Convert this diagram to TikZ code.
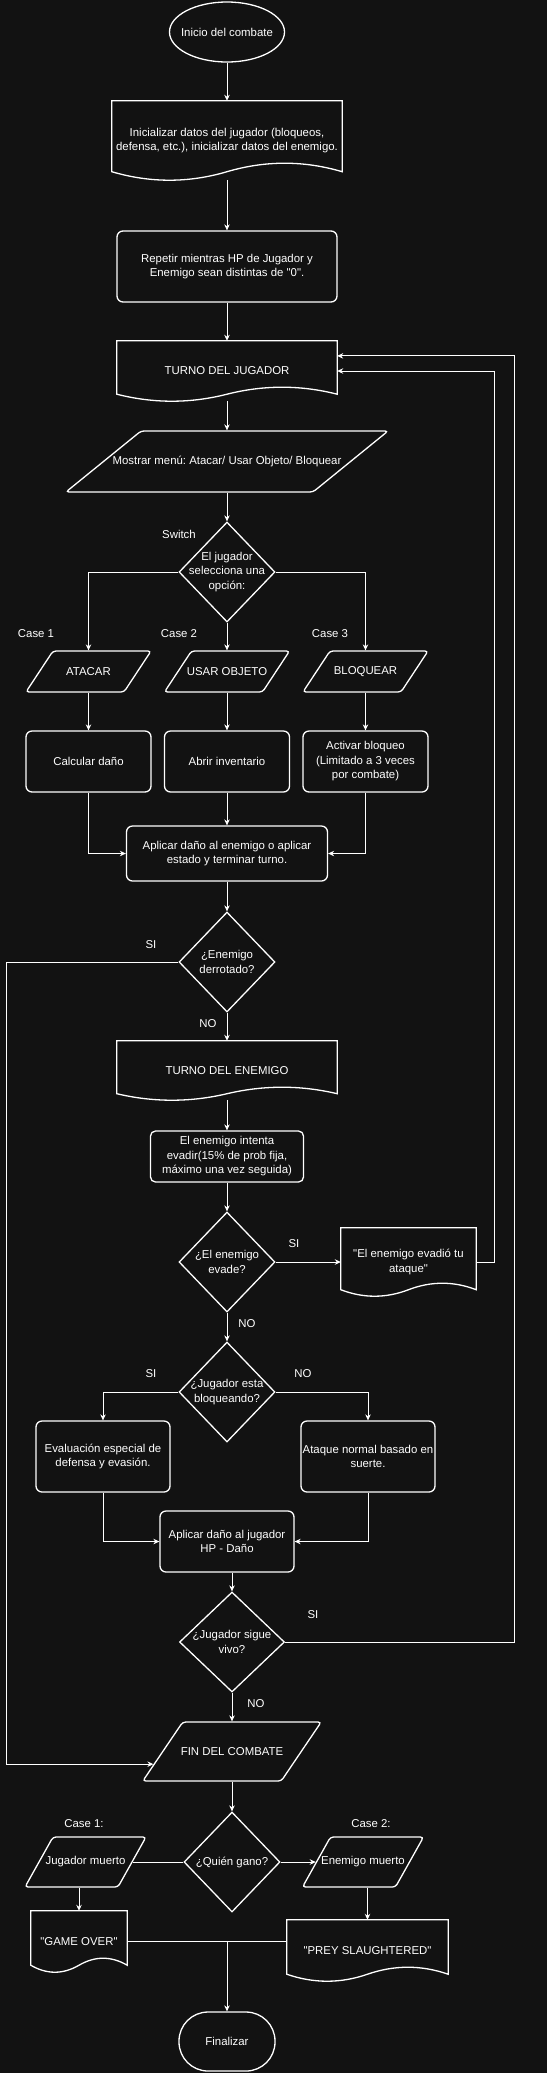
\documentclass[tikz,border=0pt]{standalone}
\usepackage{fontspec}
\setmainfont{Liberation Sans}
\usetikzlibrary{arrows.meta,calc,shapes.geometric}
\definecolor{bgc}{HTML}{121212}
\newcommand{\qq}{\textquotedbl}
\newcommand{\docline}[2]{%
\draw[shp] ($(#1.south west)+(0,-#2)$) -- (#1.north west) -- (#1.north east) -- ($(#1.south east)+(0,-#2)$)
  .. controls ($(#1.south east)!1/6!(#1.south west)+(0,-2.333*#2)$) and ($(#1.south east)!1/3!(#1.south west)+(0,-2.333*#2)$) .. ($(#1.south)+(0,-#2)$)
  .. controls ($(#1.south)!1/3!(#1.south west)+(0,0.333*#2)$) and ($(#1.south)!2/3!(#1.south west)+(0,0.333*#2)$) .. ($(#1.south west)+(0,-#2)$) -- cycle;}

\begin{document}
\frenchspacing
\begin{tikzpicture}[x=1pt,y=-1pt,font=\fontsize{11.4}{14.5}\selectfont,text=white,
  shp/.style={draw=white,line width=1.3pt},
  proc/.style={shp,rectangle,rounded corners=6pt,align=center,inner sep=0pt},
  doc/.style={rectangle,align=center,inner sep=0pt},
  io/.style n args={4}{shp,trapezium,rounded corners=3pt,trapezium left angle=#1,trapezium right angle=#2,inner xsep=#3,inner ysep=#4},
  cond/.style={shp,diamond,inner sep=0pt,minimum width=96pt,minimum height=100pt},
  tl/.style={align=center,inner sep=0pt},
  arr/.style={draw=white,line width=0.9pt,-{Stealth[length=6pt,width=5.5pt]}},
  lin/.style={draw=white,line width=0.9pt}]
\fill[bgc] (0,0) rectangle (547,2073);
\useasboundingbox (0,0) rectangle (547,2073);

\node[shp,ellipse,minimum width=115pt,minimum height=60pt,inner sep=0pt,label={[tl]center:Inicio del combate}] (ini) at (227,32) {};
\node[doc,minimum width=230pt,minimum height=79pt] (dat) at (227,140.5) {Inicializar datos del jugador (bloqueos,\\defensa, etc.), inicializar datos del enemigo.};
\docline{dat}{8.5}
\node[proc,minimum width=220pt,minimum height=71pt] (rep) at (227,266.5) {Repetir mientras HP de Jugador y\\Enemigo sean distintas de \qq0\qq.};
\node[doc,minimum width=220pt,minimum height=60pt] (tj) at (227,371) {TURNO DEL JUGADOR};
\docline{tj}{7}
\node[io={39.1}{140.9}{86pt}{30.5pt},label={[tl]center:{Mostrar menú: Atacar/ Usar Objeto/ Bloquear}}] (menu) at (227,461.5) {};
\node[cond,label={[tl]center:{El jugador\\selecciona una\\opción:}}] (sel) at (227,572) {};
\node (sw) at (179,534) {Switch};
\node (cs1) at (36,634) {Case 1};
\node (cs2) at (179,634) {Case 2};
\node (cs3) at (330,634) {Case 3};
\node[io={56.6}{123.4}{35.5pt}{20.5pt},label={[tl]center:ATACAR}] (at) at (88.5,671.5) {};
\node[io={56.6}{123.4}{35.5pt}{20.5pt},label={[tl]center:USAR OBJETO}] (us) at (227,671.5) {};
\node[io={56.6}{123.4}{35.5pt}{20.5pt},label={[tl]center:BLOQUEAR}] (bq) at (365.5,671.5) {};
\node[proc,minimum width=125pt,minimum height=61pt] (cd) at (88.5,761.5) {Calcular daño};
\node[proc,minimum width=125pt,minimum height=61pt] (ai) at (227,761.5) {Abrir inventario};
\node[proc,minimum width=125pt,minimum height=61pt] (ab) at (365.5,761.5) {Activar bloqueo\\(Limitado a 3 veces\\por combate)};
\node[proc,minimum width=201pt,minimum height=55pt] (ap) at (227,853.5) {Aplicar daño al enemigo o aplicar\\estado y terminar turno.};
\node[cond,label={[tl]center:{¿Enemigo\\derrotado?}}] (derr) at (227,962) {};
\node (si1) at (151,945) {SI};
\node (no1) at (208,1024) {NO};
\node[doc,minimum width=220pt,minimum height=59pt] (te) at (227,1070.5) {TURNO DEL ENEMIGO};
\docline{te}{6.5}
\node[proc,rounded corners=5pt,minimum width=153pt,minimum height=51pt] (ei) at (227,1156.5) {El enemigo intenta\\evadir(15\% de prob fija,\\máximo una vez seguida)};
\node[cond,label={[tl]center:{¿El enemigo\\evade?}}] (eva) at (227,1262) {};
\node (si2) at (294,1244) {SI};
\node (no2) at (247,1324) {NO};
\node[doc,minimum width=135pt,minimum height=68pt] (ev) at (408.5,1262) {\qq El enemigo evadió tu\\ataque\qq};
\docline{ev}{6.5}
\node[cond,label={[tl]center:{¿Jugador esta\\bloqueando?}}] (blq) at (227,1392) {};
\node (si3) at (151,1374) {SI};
\node (no3) at (303,1374) {NO};
\node[proc,minimum width=134pt,minimum height=71pt] (ee) at (103,1456.5) {Evaluación especial de\\defensa y evasión.};
\node[proc,minimum width=134pt,minimum height=71pt] (an) at (368,1456.5) {Ataque normal basado en\\suerte.};
\node[proc,minimum width=134pt,minimum height=61pt] (aj) at (227,1541.5) {Aplicar daño al jugador\\HP - Daño};
\node[cond,minimum width=105pt,label={[tl]center:{¿Jugador sigue\\vivo?}}] (viv) at (232,1642) {};
\node (si4) at (313,1615) {SI};
\node (no4) at (256,1704) {NO};
\node[io={55.9}{124.1}{49.25pt}{29.5pt},label={[tl]center:FIN DEL COMBATE}] (fin) at (232,1751.5) {};
\node[cond,label={[tl]center:¿Quién gano?}] (qg) at (232,1862) {};
\node (cs4) at (84,1824) {Case 1:};
\node (cs5) at (371,1824) {Case 2:};
\node[io={60.75}{119.25}{32.5pt}{25pt},label={[tl]center:Jugador muerto}] (jm) at (85.5,1862) {};
\node[io={60.75}{119.25}{32.5pt}{25pt},label={[tl]center:Enemigo muerto}] (em) at (363,1862) {};
\node[doc,minimum width=96pt,minimum height=61pt] (go) at (79,1941.5) {\qq GAME OVER\qq};
\docline{go}{7}
\node[doc,minimum width=161pt,minimum height=61pt] (ps) at (367.5,1950.5) {\qq PREY SLAUGHTERED\qq};
\docline{ps}{7}
\node[shp,rectangle,rounded corners=29pt,minimum width=96pt,minimum height=59pt,inner sep=0pt] (fz) at (227,2041.5) {Finalizar};

\draw[arr] (ini.south) -- (dat.north);
\draw[arr] (dat.south) -- (rep.north);
\draw[arr] (rep.south) -- (tj.north);
\draw[arr] (tj.south) -- (menu.north);
\draw[arr] (menu.south) -- (sel.north);
\draw[arr] (sel.west) -| (at.north);
\draw[arr] (sel.south) -- (us.north);
\draw[arr] (sel.east) -| (bq.north);
\draw[arr] (at.south) -- (cd.north);
\draw[arr] (us.south) -- (ai.north);
\draw[arr] (bq.south) -- (ab.north);
\draw[arr] (cd.south) |- (ap.west);
\draw[arr] (ai.south) -- (ap.north);
\draw[arr] (ab.south) |- (ap.east);
\draw[arr] (ap.south) -- (derr.north);
\draw[arr] (derr.south) -- (te.north);
\coordinate (fe) at ($(fin.top left corner)!0.71!(fin.bottom left corner)$);
\draw[arr] (derr.west) -- ++(-172,0) |- (fe);
\draw[arr] (te.south) -- (ei.north);
\draw[arr] (ei.south) -- (eva.north);
\draw[arr] (eva.east) -- (ev.west);
\draw[arr] (ev.east) -- ++(18,0) |- (tj.east);
\draw[arr] (eva.south) -- (blq.north);
\draw[arr] (blq.west) -| (ee.north);
\draw[arr] (blq.east) -| (an.north);
\draw[arr] (ee.south) |- (aj.west);
\draw[arr] (an.south) |- (aj.east);
\draw[arr] (viv.north |- aj.south) -- (viv.north);
\coordinate (tjin) at ($(tj.north east)!0.25!(tj.south east)$);
\draw[arr] (viv.east) -- ++(229,0) |- (tjin);
\draw[arr] (viv.south) -- (fin.north);
\draw[arr] (fin.south) -- (qg.north);
\draw[lin] (qg.west) -- (jm.east);
\draw[arr] (qg.east) -- (em.west);
\draw[arr] (go.north |- jm.south) -- (go.north);
\draw[arr] (ps.north |- em.south) -- (ps.north);
\draw[lin] (go.east) -- (go.east -| ps.west);
\draw[arr] (go.east -| fz.north) -- (fz.north);
\end{tikzpicture}
\end{document}
